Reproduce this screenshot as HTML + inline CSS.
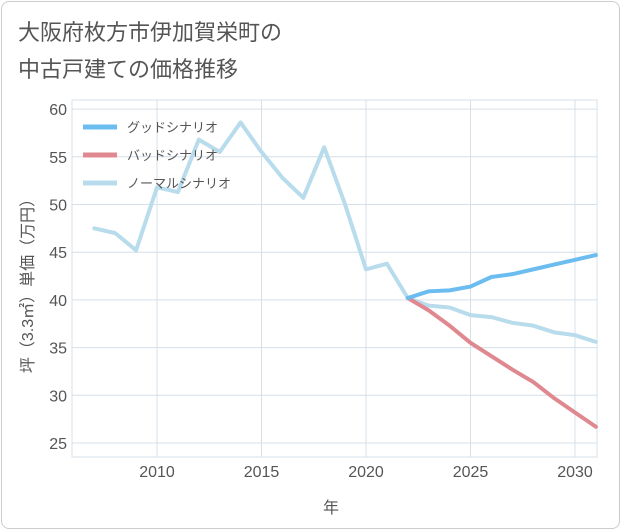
<!DOCTYPE html>
<html><head><meta charset="utf-8"><style>
body{margin:0;background:#fff;font-family:"Liberation Sans","Noto Sans CJK JP",sans-serif;}
#card{position:absolute;left:1px;top:1px;width:617px;height:526px;border:1px solid #ccc;border-radius:8px;background:#fff;}
</style></head><body>
<div id="card"></div>
<svg id="chart" width="621" height="530" style="position:absolute;left:0;top:0">
<text x="18" y="40" font-size="22" fill="#555">大阪府枚方市伊加賀栄町の</text>
<text x="18" y="77" font-size="22" fill="#555">中古戸建ての価格推移</text>
<g id="grid"></g><g id="series"></g><g id="axes"></g>
<text x="331" y="513" font-size="16" fill="#555" text-anchor="middle">年</text>
<text transform="translate(33,282) rotate(-90)" font-size="16" fill="#555" text-anchor="middle">坪（3.3㎡）単価（万円）</text>
<g>
<line x1="83" y1="127" x2="117" y2="127" stroke="#6bbdf0" stroke-width="5"/>
<text x="127" y="132" font-size="13" fill="#555">グッドシナリオ</text>
<line x1="83" y1="155" x2="117" y2="155" stroke="#e08890" stroke-width="5"/>
<text x="127" y="160" font-size="13" fill="#555">バッドシナリオ</text>
<line x1="83" y1="183" x2="117" y2="183" stroke="#b8dcec" stroke-width="5"/>
<text x="127" y="188" font-size="13" fill="#555">ノーマルシナリオ</text>
</g>
</svg>
<script>
const normalYears=[2007,2008,2009,2010,2011,2012,2013,2014,2015,2016,2017,2018,2019,2020,2021,2022,2023,2024,2025,2026,2027,2028,2029,2030,2031];
const normalValues=[47.5,47.0,45.2,51.8,51.3,56.8,55.5,58.6,55.5,52.8,50.7,56.0,50.0,43.2,43.8,40.2,39.4,39.2,38.4,38.2,37.6,37.3,36.6,36.3,35.6];
const forecastYears=[2022,2023,2024,2025,2026,2027,2028,2029,2030,2031];
const goodValues=[40.2,40.9,41.0,41.4,42.4,42.7,43.2,43.7,44.2,44.7];
const badValues=[40.2,38.9,37.3,35.5,34.1,32.7,31.4,29.7,28.2,26.7];
const xTicks=[2010,2015,2020,2025,2030];
const yTicks=[25,30,35,40,45,50,55,60];
const NS="http://www.w3.org/2000/svg";
const X0=72,X1=597,Y0=100,Y1=457;
function xs(v){return 157+(v-2010)*20.9;}
function ys(v){return 443-(v-25)*9.54;}
function mk(t,a,p){const e=document.createElementNS(NS,t);for(const k in a)e.setAttribute(k,a[k]);p.appendChild(e);return e;}
const grid=document.getElementById('grid'),axes=document.getElementById('axes'),ser=document.getElementById('series');
mk('rect',{x:X0,y:Y0,width:X1-X0,height:Y1-Y0,fill:'none',stroke:'#d6e0e8'},grid);
for(const t of yTicks){const l=mk('line',{x1:X0,x2:X1,y1:ys(t),y2:ys(t),stroke:'#d6e0e8'},grid);


const tx=mk('text',{x:X0-5,y:ys(t)+6,'font-size':16,fill:'#555','text-anchor':'end'},axes);tx.textContent=t;

}
for(const t of xTicks){const l=mk('line',{x1:xs(t),x2:xs(t),y1:Y0,y2:Y1,stroke:'#d6e0e8'},grid);


const tx=mk('text',{x:xs(t),y:Y1+20,'font-size':16,fill:'#555','text-anchor':'middle'},axes);tx.textContent=t;

}
function line(xsA,vs,c,name){const d=vs.map((v,i)=>(i?'L':'M')+xs(xsA[i])+','+ys(v)).join('');
const p=mk('path',{d:d,fill:'none',stroke:c,'stroke-width':4,'stroke-linejoin':'round','stroke-linecap':'round'},ser);

}
line(normalYears,normalValues,'#b8dcec','normal-scenario-line');
line(forecastYears,badValues,'#e08890','bad-scenario-line');
line(forecastYears,goodValues,'#6bbdf0','good-scenario-line');
</script>
</body></html>
